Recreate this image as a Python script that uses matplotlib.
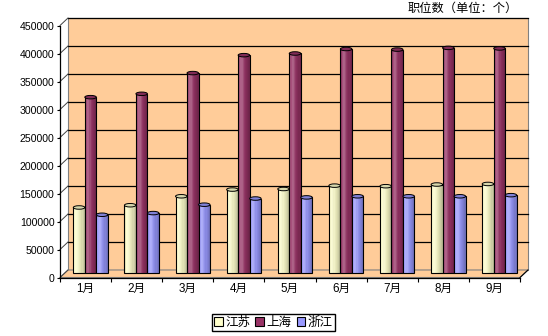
import numpy as np
import matplotlib

matplotlib.use("Agg")
import matplotlib.pyplot as plt
from matplotlib.patches import Ellipse, Patch, Polygon
from matplotlib.colors import to_rgb

plt.rcParams["font.family"] = ["Liberation Sans", "Noto Sans CJK SC"]

months = ["1月", "2月", "3月", "4月", "5月", "6月", "7月", "8月", "9月"]
series = ["江苏", "上海", "浙江"]
jiangsu = [117000, 121000, 137000, 149000, 150000, 156000, 155000, 158000, 159000]
shanghai = [314000, 320000, 357000, 389000, 392000, 400000, 399000, 402000, 401000]
zhejiang = [104000, 107000, 122000, 133000, 135000, 137000, 137000, 137000, 139000]
colors = ["#FFFFCC", "#993366", "#9999FF"]
yticks = list(range(0, 450001, 50000))

W, H = 548, 336
WALL = "#FFCC99"
EDGE = "#808080"

fig = plt.figure(figsize=(W / 100, H / 100), dpi=100)
# front plane of the 3d box, in pixels: x 60..520, y 277.5 (0) .. 25.5 (450000)
ax = fig.add_axes([60 / W, (H - 277.5) / H, 460 / W, 252 / H])
ax.set_xlim(0, 9)
ax.set_ylim(0, 450000)
ax.patch.set_visible(False)

PX = 9 / 460            # data x per pixel
PY = 450000 / 252       # data y per pixel
dxb, dyb = 8 * PX, 7.5 * PY     # depth of back wall
dxm, dym = 5 * PX, 4.5 * PY     # depth of bar row

# back wall + floor
ax.add_patch(Polygon([(dxb, dyb), (9 + dxb, dyb), (9 + dxb, 450000 + dyb), (dxb, 450000 + dyb)],
                     closed=True, fc=WALL, ec=EDGE, lw=0.8, clip_on=False, zorder=0))
ax.add_patch(Polygon([(0, 0), (9, 0), (9 + dxb, dyb), (dxb, dyb)],
                     closed=True, fc=WALL, ec=EDGE, lw=0.8, clip_on=False, zorder=0))
# gridlines on back wall and side wall
for v in yticks[1:]:
    ax.plot([dxb, 9 + dxb], [v + dyb, v + dyb], color="black", lw=0.9, clip_on=False, zorder=1)
for v in yticks:
    ax.plot([0, dxb], [v, v + dyb], color="#404040", lw=0.7, clip_on=False, zorder=1)
ax.plot([9, 9 + dxb], [0, dyb], color="black", lw=0.8, clip_on=False, zorder=1)


def shade(base, t):
    c = np.array(to_rgb(base))
    hi = 0.25 * np.exp(-((t - 0.3) / 0.2) ** 2)
    dk = 0.28 * t ** 2 + 0.12 * max(0, 1 - t / 0.12)
    c = c + (1 - c) * hi
    return tuple(np.clip(c * (1 - dk), 0, 1))


bw = 11.5 * PX
nsl = 10
x = np.arange(len(months)) + 0.5
for k, (vals, col) in enumerate(zip([jiangsu, shanghai, zhejiang], colors)):
    xc = x + (k - 1) * bw + dxm
    for s in range(nsl):
        t = (s + 0.5) / nsl
        ax.bar(xc - bw / 2 + (s + 0.5) * bw / nsl, vals, width=bw / nsl, bottom=dym,
               color=shade(col, t), lw=0, clip_on=False, zorder=2 + k * 0.1)
    ax.bar(xc, vals, width=bw, bottom=dym, fill=False, ec="black", lw=0.8,
           clip_on=False, zorder=2.05 + k * 0.1)
    capc = shade(col, 0.75)
    for xi, v in zip(xc, vals):
        ax.add_patch(Ellipse((xi, v + dym), bw, 3.5 * PY, fc=capc, ec="black", lw=0.7,
                             clip_on=False, zorder=2.08 + k * 0.1))

# axes styling
for s in ["top", "right"]:
    ax.spines[s].set_visible(False)
ax.spines["left"].set_linewidth(0.9)
ax.spines["bottom"].set_linewidth(0.9)
ax.spines["left"].set_zorder(3)
ax.spines["bottom"].set_zorder(3)
ax.set_yticks(yticks)
ax.set_yticklabels([str(v) for v in yticks])
ax.tick_params(axis="y", length=2, width=0.8, pad=2, labelsize=7.6)
ax.set_xticks(x)
ax.set_xticklabels(months)
ax.set_xticks(np.arange(0, 10), minor=True)
ax.tick_params(axis="x", which="major", length=0, pad=4, labelsize=8.4)
ax.tick_params(axis="x", which="minor", length=3, width=0.8)

fig.text(463 / W, 1 - 9 / H, "职位数（单位：个）", ha="center", va="center", fontsize=8.8)

handles = [Patch(fc=c, ec="black", lw=0.8) for c in colors]
fig.legend(handles, series, loc="center", bbox_to_anchor=(273.5 / W, 1 - 322.5 / H),
           ncol=3, fontsize=9, handlelength=0.7, handleheight=0.7, handletextpad=0.2,
           columnspacing=0.4, borderpad=0.2, fancybox=False, edgecolor="black",
           framealpha=1, borderaxespad=0)

fig.savefig("out.png", dpi=100)
